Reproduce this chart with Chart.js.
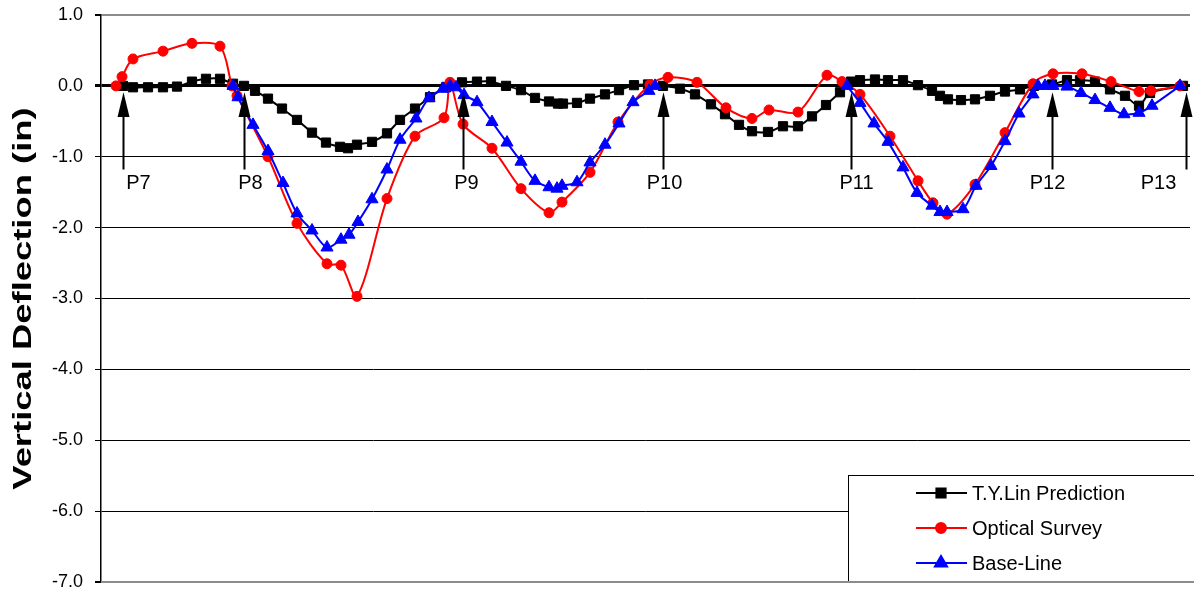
<!DOCTYPE html>
<html>
<head>
<meta charset="utf-8">
<script src="https://cdn.jsdelivr.net/npm/chart.js@4.4.1/dist/chart.umd.min.js"></script>
<style>
  html, body { margin: 0; padding: 0; background: #ffffff; }
  #wrap { width: 1194px; height: 593px; }
</style>
</head>
<body>
<div id="wrap"><canvas id="chart" width="1194" height="593"></canvas></div>
<script>
// Stations along the girder line (ft) and vertical deflections (in)
const tyLinStation = [22, 32, 47, 62, 76, 91, 105, 119, 132, 143, 154, 167, 181, 196, 211, 225, 239, 247, 256, 271,
  286, 299, 314, 329, 345, 361, 376, 390, 405, 420, 434, 448, 457, 462, 476, 489, 504, 518, 533, 547,
  562, 579, 594, 610, 624, 638, 651, 667, 682, 697, 711, 725, 739, 750, 759, 774, 787, 802, 817, 831,
  839, 847, 860, 874, 889, 904, 919, 933, 951, 966, 979, 994, 1009, 1024, 1038, 1049, 1082];
const tyLinDeflection = [0.00, -0.02, -0.02, -0.02, -0.01, 0.06, 0.10, 0.10, 0.03, 0.00, -0.07, -0.18, -0.32, -0.48, -0.66, -0.80, -0.86, -0.88, -0.83, -0.79,
  -0.67, -0.48, -0.32, -0.16, -0.02, 0.05, 0.06, 0.06, 0.00, -0.06, -0.17, -0.22, -0.25, -0.25, -0.24, -0.18, -0.12, -0.06, 0.01, 0.02,
  0.00, -0.04, -0.12, -0.26, -0.40, -0.55, -0.64, -0.65, -0.57, -0.57, -0.43, -0.27, -0.09, 0.06, 0.08, 0.09, 0.08, 0.08, 0.01, -0.07,
  -0.14, -0.19, -0.20, -0.19, -0.14, -0.08, -0.05, 0.00, 0.02, 0.08, 0.08, 0.06, -0.05, -0.14, -0.28, -0.10, 0.00];

const surveyStation = [15, 21, 32, 62, 91, 119, 131, 136, 167, 196, 226, 240, 256, 286, 314, 343, 349, 362, 391, 420,
  448, 461, 489, 517, 549, 567, 596, 625, 651, 668, 697, 726, 741, 759, 789, 817, 832, 846, 874, 904,
  932, 952, 981, 1010, 1038, 1050, 1079];
const surveyDeflection = [0.00, 0.13, 0.38, 0.49, 0.60, 0.56, 0.00, -0.14, -1.00, -1.94, -2.51, -2.53, -2.97, -1.59, -0.71, -0.45, 0.05, -0.54, -0.88, -1.45,
  -1.79, -1.64, -1.22, -0.51, 0.02, 0.12, 0.05, -0.31, -0.46, -0.34, -0.37, 0.15, 0.06, -0.12, -0.71, -1.34, -1.65, -1.81, -1.39, -0.66,
  0.03, 0.17, 0.17, 0.06, -0.08, -0.07, 0.00];

// Base-line readings were not taken across the P10-P11 span (null = no reading)
const baseLineStation = [132, 137, 152, 167, 182, 196, 211, 226, 240, 248, 257, 271, 286, 299, 315, 328, 342, 349, 355, 363,
  376, 391, 406, 420, 434, 448, 456, 461, 476, 489, 504, 518, 532, 548, 554, 650,
  746, 759, 773, 787, 802, 816, 831, 839, 846, 862, 875, 890, 904, 918, 932, 937, 944, 952, 966, 980, 994, 1009, 1023, 1038, 1051, 1079];
const baseLineDeflection = [0.00, -0.16, -0.55, -0.92, -1.37, -1.80, -2.04, -2.28, -2.17, -2.10, -1.92, -1.60, -1.18, -0.76, -0.46, -0.17, -0.04, 0.00, -0.02, -0.13,
  -0.23, -0.51, -0.80, -1.07, -1.34, -1.43, -1.45, -1.41, -1.36, -1.08, -0.83, -0.53, -0.23, -0.07, 0.00, null,
  0.00, -0.24, -0.53, -0.79, -1.15, -1.51, -1.69, -1.78, -1.78, -1.74, -1.41, -1.13, -0.78, -0.39, -0.12, 0.00, 0.00, 0.00, -0.01, -0.10, -0.20, -0.31, -0.40, -0.38, -0.28, 0.00];

const pierNames = ['P7', 'P8', 'P9', 'P10', 'P11', 'P12', 'P13'];
const pierStation = [22, 143, 362, 562, 750, 951, 1085];

const yTickValues = [1, 0, -1, -2, -3, -4, -5, -6, -7];
const yAxisTitle = 'Vertical Deflection (in)';

// ---- drawing styles ----
const FONT = '"Liberation Sans", Arial, Helvetica, sans-serif';
const pierLabelShift = [15, 6, 3, 1, 5, -5, -28];   // label centre offset from arrow (px)
const arrowGeom = { tip: -0.09, headBase: -0.44, tail: -1.18, label: -1.38, halfWidth: 6 };
const titleStyle = { size: 26, stretch: 1.4, centerX: 24 };

function points(xs, ys) {
  return xs.map((x, i) => ({ x: x, y: ys[i] }));
}

const series = [
  { label: 'T.Y.Lin Prediction', color: '#000000', style: 'rect', radius: 6.5, order: 3,
    data: points(tyLinStation, tyLinDeflection) },
  { label: 'Optical Survey', color: '#ff0000', style: 'circle', radius: 5, order: 2,
    data: points(surveyStation, surveyDeflection) },
  { label: 'Base-Line', color: '#0000ff', style: 'triangle', radius: 7, order: 1,
    data: points(baseLineStation, baseLineDeflection) }
];

const pierPlugin = {
  id: 'pierMarks',
  afterDatasetsDraw(chart) {
    const ctx = chart.ctx;
    const xs = chart.scales.x, ys = chart.scales.y;
    ctx.save();
    ctx.fillStyle = '#000';
    ctx.strokeStyle = '#000';
    ctx.lineWidth = 2;
    ctx.font = '20px ' + FONT;
    ctx.textAlign = 'center';
    ctx.textBaseline = 'middle';
    pierStation.forEach((st, i) => {
      const px = Math.round(xs.getPixelForValue(st)) + 0.5;
      const tip = ys.getPixelForValue(arrowGeom.tip);
      const base = ys.getPixelForValue(arrowGeom.headBase);
      const tail = ys.getPixelForValue(arrowGeom.tail);
      ctx.beginPath();
      ctx.moveTo(px, base - 1);
      ctx.lineTo(px, tail);
      ctx.stroke();
      ctx.beginPath();
      ctx.moveTo(px, tip);
      ctx.lineTo(px - arrowGeom.halfWidth, base);
      ctx.lineTo(px + arrowGeom.halfWidth, base);
      ctx.closePath();
      ctx.fill();
      ctx.fillText(pierNames[i], px + pierLabelShift[i], ys.getPixelForValue(arrowGeom.label));
    });
    ctx.restore();
  }
};

const titlePlugin = {
  id: 'axisTitle',
  afterDraw(chart) {
    const ctx = chart.ctx;
    const a = chart.chartArea;
    ctx.save();
    ctx.translate(titleStyle.centerX, (a.top + a.bottom) / 2);
    ctx.rotate(-Math.PI / 2);
    ctx.scale(titleStyle.stretch, 1);
    ctx.font = 'bold ' + titleStyle.size + 'px ' + FONT;
    ctx.fillStyle = '#000';
    ctx.textAlign = 'center';
    ctx.textBaseline = 'middle';
    ctx.fillText(yAxisTitle, 0, 0);
    ctx.restore();
  }
};

const legendPlugin = {
  id: 'boxLegend',
  afterDraw(chart) {
    const ctx = chart.ctx;
    const a = chart.chartArea;
    const left = a.right - 342, top = a.bottom - 107;
    ctx.save();
    ctx.fillStyle = '#fff';
    ctx.fillRect(left, top, 360, 107);
    ctx.strokeStyle = '#000';
    ctx.lineWidth = 1;
    ctx.strokeRect(left + 0.5, top + 0.5, 360, 107);
    ctx.font = '20px ' + FONT;
    ctx.textBaseline = 'middle';
    ctx.textAlign = 'left';
    series.forEach((s, i) => {
      const cy = top + 18 + i * 35;
      ctx.strokeStyle = s.color;
      ctx.lineWidth = 2;
      ctx.beginPath();
      ctx.moveTo(left + 68, cy);
      ctx.lineTo(left + 119, cy);
      ctx.stroke();
      ctx.fillStyle = s.color;
      Chart.helpers.drawPoint(ctx, { pointStyle: s.style, radius: s.radius, borderWidth: 1, rotation: 0 }, left + 93, cy);
      ctx.fill();
      ctx.fillStyle = '#000';
      ctx.fillText(s.label, left + 124, cy + 1);
    });
    // bottom frame line of the plot runs under the legend box
    ctx.strokeStyle = '#8c8c8c';
    ctx.lineWidth = 2;
    ctx.beginPath();
    ctx.moveTo(a.left, a.bottom);
    ctx.lineTo(chart.width, a.bottom);
    ctx.stroke();
    ctx.restore();
  }
};

new Chart(document.getElementById('chart'), {
  type: 'line',
  data: {
    datasets: series.map(s => ({
      label: s.label,
      data: s.data,
      borderColor: s.color,
      backgroundColor: s.color,
      pointBackgroundColor: s.color,
      pointBorderColor: s.color,
      pointStyle: s.style,
      pointRadius: s.radius,
      pointBorderWidth: 1,
      borderWidth: 2,
      tension: 0.3,
      spanGaps: false,
      fill: false,
      order: s.order
    }))
  },
  options: {
    responsive: false,
    animation: false,
    devicePixelRatio: 1,
    layout: { autoPadding: false, padding: { left: 0, top: 15, right: 4, bottom: 11 } },
    plugins: { legend: { display: false }, tooltip: { enabled: false } },
    scales: {
      x: {
        type: 'linear', min: 0, max: 1089, display: false
      },
      y: {
        type: 'linear', min: -7, max: 1,
        afterBuildTicks(scale) { scale.ticks = yTickValues.map(v => ({ value: v })); },
        afterFit(scale) {
          scale.width = 101;
          scale.paddingTop = 0;
          scale.paddingBottom = 0;
        },
        grid: {
          color: c => (c.tick && (c.tick.value === 1 || c.tick.value === -7)) ? '#8c8c8c' : '#000',
          lineWidth: c => {
            if (!c.tick) return 1;
            if (c.tick.value === 0) return 3;
            if (c.tick.value === 1 || c.tick.value === -7) return 2;
            return 1;
          },
          tickColor: '#000',
          tickLength: 6,
          drawTicks: true
        },
        border: { display: true, color: '#000', width: 1.5 },
        ticks: {
          color: '#000',
          font: { family: FONT, size: 18 },
          padding: 12,
          callback: v => v.toFixed(1)
        },
        title: { display: false }
      }
    }
  },
  plugins: [pierPlugin, titlePlugin, legendPlugin]
});
</script>
</body>
</html>
